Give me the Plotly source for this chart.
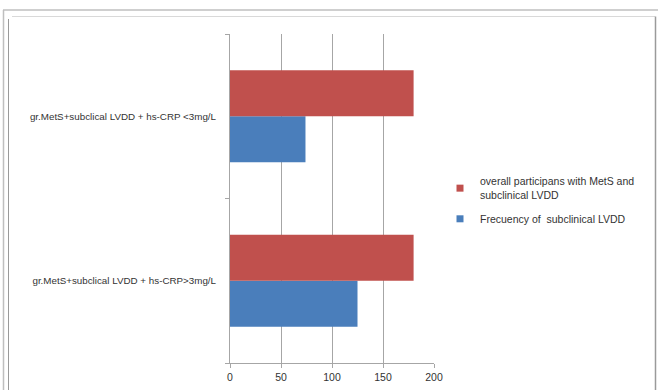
import plotly.graph_objects as go

# Groups (bottom to top) and series values
categories = [
    "gr.MetS+subclical LVDD + hs-CRP>3mg/L",
    "gr.MetS+subclical LVDD + hs-CRP <3mg/L",
]
frequency_lvdd = [125, 74]
overall_mets_lvdd = [180, 180]
x_ticks = [0, 50, 100, 150, 200]

series_names = [
    "Frecuency of  subclinical LVDD",
    "overall participans with MetS and<br>subclinical LVDD",
]

BLUE = "#4A7EBB"
RED = "#C0504D"
GRID = "#A6A6A6"
FONT = "Liberation Sans, Arial, sans-serif"

W, H = 658, 390
L, R, T, B = 230, 434, 34, 363  # plot area edges in pixels

fig = go.Figure()
series = [(series_names[0], frequency_lvdd, BLUE, 2),
          (series_names[1], overall_mets_lvdd, RED, 1)]
for name, vals, color, rank in series:
    fig.add_trace(go.Bar(
        y=categories, x=vals, orientation="h", name=name,
        marker=dict(color=color, line=dict(width=0)),
        showlegend=False, legendgroup=name,
    ))
    # small square legend key
    fig.add_trace(go.Scatter(
        x=[None], y=[None], mode="markers", name=name, legendgroup=name,
        legendrank=rank,
        marker=dict(symbol="square", size=7, color=color),
        showlegend=True, hoverinfo="skip",
    ))


def px_x(p):
    return (p - L) / (R - L)


def px_y(p):
    return (B - p) / (B - T)


frame_color = "#BFBFBF"
shapes = [
    # outer frame
    dict(type="line", xref="paper", yref="paper", x0=px_x(3), x1=px_x(660),
         y0=px_y(10), y1=px_y(10), line=dict(color=frame_color, width=1.5)),
    dict(type="line", xref="paper", yref="paper", x0=px_x(3.5), x1=px_x(3.5),
         y0=px_y(10), y1=px_y(392), line=dict(color=frame_color, width=1.5)),
    # inner frame
    dict(type="line", xref="paper", yref="paper", x0=px_x(12), x1=px_x(655),
         y0=px_y(16.5), y1=px_y(16.5), line=dict(color="#D9D9D9", width=1)),
    dict(type="line", xref="paper", yref="paper", x0=px_x(8.5), x1=px_x(8.5),
         y0=px_y(19), y1=px_y(392), line=dict(color="#9A9A9A", width=1)),
    dict(type="line", xref="paper", yref="paper", x0=px_x(655.5), x1=px_x(655.5),
         y0=px_y(16.5), y1=px_y(392), line=dict(color="#9A9A9A", width=1.5)),
]

fig.update_layout(
    width=W, height=H,
    margin=dict(l=L, r=W - R, t=T, b=H - B, pad=0, autoexpand=False),
    paper_bgcolor="white", plot_bgcolor="white",
    barmode="group", bargap=0.44, bargroupgap=0,
    font=dict(family=FONT, size=10, color="#333333"),
    showlegend=True,
    legend=dict(
        xref="container", yref="container",
        x=440 / W, y=1 - 168 / H, xanchor="left", yanchor="top",
        traceorder="grouped", tracegroupgap=6,
        font=dict(size=10.5, color="#333333"),
        itemwidth=30, bgcolor="rgba(0,0,0,0)",
    ),
    xaxis=dict(
        range=[0, 200], tickvals=x_ticks, ticktext=[str(v) for v in x_ticks],
        showgrid=True, gridcolor=GRID, gridwidth=1,
        showline=True, linecolor=GRID, linewidth=1,
        ticks="outside", ticklen=4, tickcolor=GRID,
        zeroline=False, tickfont=dict(size=10.5, color="#333333"),
        fixedrange=True, automargin=False,
    ),
    yaxis=dict(
        type="category", categoryorder="array", categoryarray=categories,
        showline=True, linecolor=GRID, linewidth=1,
        ticks="outside", ticklen=4, tickcolor=GRID, tickson="boundaries",
        showgrid=False, ticklabelstandoff=11,
        tickfont=dict(size=9.8, color="#333333"),
        fixedrange=True, automargin=False,
    ),
    shapes=shapes,
)

fig.write_html("out.html", config={"displayModeBar": False})
